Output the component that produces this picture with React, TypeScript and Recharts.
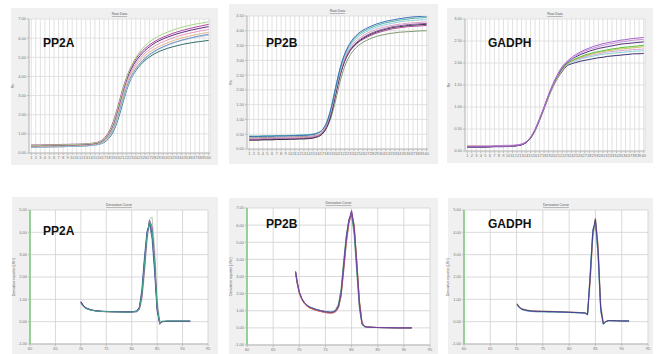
import { LineChart, Line, XAxis, YAxis, CartesianGrid } from 'recharts';

// ---- amplification (raw data) ----
const cycles = [1, 2, 3, 4, 5, 6, 7, 8, 9, 10, 11, 12, 13, 14, 15, 16, 17, 18, 19, 20, 21, 22, 23, 24, 25, 26, 27, 28, 29, 30, 31, 32, 33, 34, 35, 36, 37, 38, 39, 40];

const pp2aGreen = [0.40, 0.40, 0.40, 0.41, 0.41, 0.42, 0.42, 0.43, 0.43, 0.44, 0.45, 0.46, 0.47, 0.49, 0.52, 0.58, 0.73, 1.02, 1.55, 2.32, 3.18, 3.95, 4.55, 5.00, 5.33, 5.60, 5.80, 5.97, 6.10, 6.22, 6.32, 6.41, 6.49, 6.56, 6.62, 6.68, 6.73, 6.77, 6.81, 6.85];
const pp2aMagenta = [0.42, 0.42, 0.42, 0.43, 0.43, 0.44, 0.44, 0.45, 0.45, 0.46, 0.46, 0.47, 0.48, 0.50, 0.53, 0.60, 0.76, 1.08, 1.62, 2.40, 3.25, 3.98, 4.52, 4.92, 5.22, 5.46, 5.65, 5.81, 5.94, 6.05, 6.15, 6.24, 6.32, 6.39, 6.45, 6.51, 6.57, 6.62, 6.67, 6.72];
const pp2aPurple = [0.38, 0.38, 0.39, 0.39, 0.40, 0.40, 0.41, 0.41, 0.42, 0.42, 0.43, 0.44, 0.45, 0.47, 0.50, 0.56, 0.71, 1.00, 1.50, 2.25, 3.10, 3.85, 4.40, 4.80, 5.10, 5.35, 5.55, 5.72, 5.85, 5.96, 6.06, 6.14, 6.22, 6.29, 6.35, 6.41, 6.46, 6.51, 6.56, 6.60];
const pp2aPink = [0.36, 0.36, 0.37, 0.37, 0.38, 0.38, 0.39, 0.39, 0.40, 0.40, 0.41, 0.42, 0.43, 0.45, 0.48, 0.54, 0.68, 0.96, 1.44, 2.15, 2.98, 3.72, 4.27, 4.67, 4.97, 5.21, 5.41, 5.57, 5.70, 5.81, 5.91, 6.00, 6.08, 6.15, 6.21, 6.27, 6.32, 6.37, 6.41, 6.45];
const pp2aTan = [0.35, 0.35, 0.35, 0.36, 0.36, 0.37, 0.37, 0.38, 0.38, 0.39, 0.40, 0.41, 0.42, 0.44, 0.47, 0.52, 0.65, 0.92, 1.38, 2.08, 2.90, 3.63, 4.17, 4.56, 4.85, 5.08, 5.27, 5.42, 5.55, 5.66, 5.76, 5.85, 5.93, 6.00, 6.06, 6.12, 6.17, 6.22, 6.26, 6.30];
const pp2aBlue = [0.33, 0.33, 0.34, 0.34, 0.35, 0.35, 0.36, 0.36, 0.37, 0.37, 0.38, 0.39, 0.40, 0.42, 0.45, 0.50, 0.62, 0.86, 1.28, 1.94, 2.74, 3.48, 4.03, 4.43, 4.72, 4.96, 5.15, 5.31, 5.44, 5.55, 5.65, 5.74, 5.82, 5.89, 5.95, 6.01, 6.07, 6.12, 6.16, 6.20];
const pp2aCyan = [0.30, 0.30, 0.31, 0.31, 0.32, 0.32, 0.33, 0.33, 0.34, 0.34, 0.35, 0.36, 0.37, 0.39, 0.41, 0.46, 0.57, 0.79, 1.18, 1.80, 2.60, 3.36, 3.93, 4.35, 4.66, 4.91, 5.11, 5.27, 5.41, 5.53, 5.63, 5.72, 5.80, 5.87, 5.93, 5.99, 6.04, 6.08, 6.12, 6.15];
const pp2aTeal = [0.30, 0.30, 0.31, 0.31, 0.32, 0.32, 0.33, 0.33, 0.34, 0.35, 0.35, 0.36, 0.37, 0.39, 0.42, 0.46, 0.55, 0.75, 1.10, 1.70, 2.50, 3.30, 3.90, 4.30, 4.60, 4.84, 5.02, 5.17, 5.29, 5.39, 5.47, 5.54, 5.60, 5.66, 5.71, 5.75, 5.79, 5.82, 5.85, 5.88];

const pp2bBlue = [0.42, 0.42, 0.42, 0.43, 0.43, 0.43, 0.44, 0.44, 0.44, 0.45, 0.45, 0.46, 0.46, 0.47, 0.49, 0.53, 0.63, 0.88, 1.38, 2.08, 2.74, 3.22, 3.54, 3.76, 3.91, 4.02, 4.10, 4.17, 4.23, 4.28, 4.32, 4.35, 4.38, 4.41, 4.43, 4.45, 4.47, 4.48, 4.49, 4.50];
const pp2bTeal = [0.43, 0.43, 0.43, 0.44, 0.44, 0.44, 0.45, 0.45, 0.45, 0.46, 0.46, 0.47, 0.47, 0.48, 0.50, 0.54, 0.64, 0.90, 1.40, 2.10, 2.74, 3.20, 3.50, 3.71, 3.86, 3.97, 4.05, 4.12, 4.18, 4.23, 4.27, 4.30, 4.33, 4.36, 4.38, 4.40, 4.42, 4.43, 4.44, 4.45];
const pp2bCyan = [0.44, 0.44, 0.44, 0.44, 0.45, 0.45, 0.45, 0.46, 0.46, 0.46, 0.47, 0.47, 0.48, 0.49, 0.51, 0.55, 0.64, 0.88, 1.36, 2.04, 2.68, 3.14, 3.44, 3.65, 3.80, 3.91, 3.99, 4.06, 4.12, 4.17, 4.21, 4.24, 4.27, 4.30, 4.32, 4.34, 4.35, 4.36, 4.37, 4.38];
const pp2bPink = [0.36, 0.36, 0.36, 0.37, 0.37, 0.37, 0.38, 0.38, 0.38, 0.39, 0.39, 0.40, 0.40, 0.41, 0.43, 0.47, 0.57, 0.82, 1.30, 1.98, 2.62, 3.08, 3.38, 3.58, 3.72, 3.83, 3.92, 3.99, 4.05, 4.10, 4.14, 4.17, 4.20, 4.22, 4.24, 4.26, 4.27, 4.28, 4.29, 4.30];
const pp2bPurple = [0.34, 0.34, 0.34, 0.35, 0.35, 0.35, 0.36, 0.36, 0.36, 0.37, 0.37, 0.38, 0.38, 0.39, 0.41, 0.45, 0.55, 0.78, 1.24, 1.92, 2.56, 3.02, 3.32, 3.52, 3.66, 3.77, 3.86, 3.93, 3.99, 4.04, 4.08, 4.12, 4.15, 4.17, 4.19, 4.21, 4.22, 4.23, 4.24, 4.25];
const pp2bDark = [0.30, 0.30, 0.30, 0.31, 0.31, 0.31, 0.32, 0.32, 0.32, 0.33, 0.33, 0.34, 0.34, 0.35, 0.37, 0.41, 0.50, 0.72, 1.16, 1.84, 2.50, 2.98, 3.29, 3.49, 3.63, 3.74, 3.83, 3.90, 3.96, 4.01, 4.05, 4.09, 4.12, 4.14, 4.16, 4.18, 4.19, 4.20, 4.21, 4.22];
const pp2bMagenta = [0.31, 0.31, 0.31, 0.32, 0.32, 0.32, 0.33, 0.33, 0.33, 0.34, 0.34, 0.35, 0.35, 0.36, 0.38, 0.42, 0.51, 0.74, 1.20, 1.88, 2.52, 2.98, 3.28, 3.47, 3.61, 3.71, 3.79, 3.86, 3.92, 3.97, 4.01, 4.05, 4.08, 4.10, 4.12, 4.14, 4.15, 4.16, 4.17, 4.18];
const pp2bOlive = [0.38, 0.38, 0.38, 0.39, 0.39, 0.39, 0.40, 0.40, 0.40, 0.41, 0.41, 0.42, 0.42, 0.43, 0.44, 0.47, 0.54, 0.72, 1.08, 1.66, 2.30, 2.80, 3.13, 3.35, 3.50, 3.61, 3.69, 3.76, 3.81, 3.85, 3.88, 3.91, 3.93, 3.95, 3.96, 3.97, 3.98, 3.99, 4.00, 4.00];

const gadphPurple = [0.10, 0.10, 0.10, 0.10, 0.10, 0.10, 0.11, 0.11, 0.11, 0.11, 0.12, 0.13, 0.15, 0.20, 0.31, 0.49, 0.74, 1.01, 1.29, 1.54, 1.75, 1.92, 2.03, 2.12, 2.19, 2.25, 2.30, 2.34, 2.38, 2.41, 2.44, 2.46, 2.48, 2.50, 2.52, 2.53, 2.55, 2.56, 2.57, 2.58];
const gadphViolet = [0.11, 0.11, 0.11, 0.11, 0.11, 0.11, 0.12, 0.12, 0.12, 0.12, 0.13, 0.14, 0.16, 0.21, 0.32, 0.50, 0.74, 1.00, 1.28, 1.52, 1.73, 1.90, 2.01, 2.09, 2.16, 2.22, 2.27, 2.31, 2.34, 2.37, 2.40, 2.42, 2.44, 2.46, 2.48, 2.49, 2.51, 2.52, 2.53, 2.54];
const gadphDark = [0.09, 0.09, 0.09, 0.09, 0.09, 0.10, 0.10, 0.10, 0.10, 0.11, 0.11, 0.12, 0.14, 0.19, 0.30, 0.48, 0.72, 0.99, 1.27, 1.51, 1.72, 1.88, 2.00, 2.08, 2.14, 2.19, 2.23, 2.27, 2.30, 2.33, 2.35, 2.37, 2.39, 2.41, 2.43, 2.44, 2.45, 2.46, 2.47, 2.48];
const gadphGreen = [0.10, 0.10, 0.10, 0.10, 0.10, 0.10, 0.11, 0.11, 0.11, 0.11, 0.12, 0.13, 0.15, 0.20, 0.31, 0.49, 0.73, 0.99, 1.26, 1.50, 1.70, 1.86, 1.98, 2.05, 2.10, 2.14, 2.18, 2.21, 2.24, 2.26, 2.28, 2.30, 2.32, 2.33, 2.35, 2.36, 2.37, 2.38, 2.39, 2.40];
const gadphOlive = [0.11, 0.11, 0.11, 0.11, 0.11, 0.11, 0.11, 0.12, 0.12, 0.12, 0.12, 0.13, 0.15, 0.20, 0.30, 0.48, 0.72, 0.98, 1.25, 1.49, 1.69, 1.85, 1.97, 2.04, 2.09, 2.13, 2.16, 2.19, 2.22, 2.24, 2.26, 2.28, 2.29, 2.31, 2.32, 2.33, 2.34, 2.35, 2.36, 2.37];
const gadphPink = [0.12, 0.12, 0.12, 0.12, 0.12, 0.12, 0.12, 0.12, 0.13, 0.13, 0.13, 0.14, 0.16, 0.21, 0.31, 0.48, 0.71, 0.97, 1.24, 1.48, 1.68, 1.84, 1.96, 2.03, 2.07, 2.11, 2.14, 2.17, 2.19, 2.21, 2.23, 2.25, 2.26, 2.27, 2.28, 2.29, 2.30, 2.31, 2.31, 2.32];
const gadphCyan = [0.10, 0.10, 0.10, 0.10, 0.11, 0.11, 0.11, 0.11, 0.11, 0.12, 0.12, 0.13, 0.15, 0.20, 0.30, 0.47, 0.71, 0.97, 1.24, 1.48, 1.67, 1.83, 1.95, 2.01, 2.05, 2.09, 2.12, 2.14, 2.16, 2.18, 2.20, 2.21, 2.22, 2.23, 2.24, 2.25, 2.26, 2.27, 2.27, 2.28];
const gadphNavy = [0.09, 0.09, 0.09, 0.09, 0.09, 0.09, 0.10, 0.10, 0.10, 0.10, 0.11, 0.12, 0.14, 0.19, 0.29, 0.46, 0.70, 0.96, 1.23, 1.47, 1.66, 1.81, 1.93, 1.98, 2.01, 2.04, 2.06, 2.08, 2.10, 2.12, 2.13, 2.15, 2.16, 2.17, 2.18, 2.19, 2.20, 2.21, 2.21, 2.22];

// ---- melt (derivative) ----
const pp2aTemps = [70, 70.5, 71, 72, 73, 74, 75, 76, 77, 78, 79, 80, 81, 81.5, 82, 82.5, 83, 83.5, 84, 84.5, 85, 85.5, 86, 87, 88, 89, 90, 91.5];
const pp2aMelt1 = [0.90, 0.72, 0.62, 0.53, 0.49, 0.47, 0.46, 0.45, 0.45, 0.44, 0.44, 0.44, 0.47, 0.62, 1.30, 2.70, 3.95, 4.45, 3.95, 2.45, 0.55, -0.05, 0.00, 0.02, 0.02, 0.02, 0.02, 0.02];
const pp2aMelt2 = [0.85, 0.70, 0.60, 0.52, 0.48, 0.46, 0.45, 0.44, 0.44, 0.44, 0.43, 0.43, 0.45, 0.56, 1.10, 2.35, 3.75, 4.55, 4.25, 2.85, 0.75, -0.12, 0.00, 0.02, 0.02, 0.02, 0.02, 0.02];
const pp2aMelt3 = [0.88, 0.71, 0.61, 0.52, 0.48, 0.46, 0.45, 0.45, 0.44, 0.44, 0.44, 0.44, 0.48, 0.66, 1.45, 2.90, 4.05, 4.35, 3.70, 2.20, 0.45, -0.05, 0.00, 0.02, 0.02, 0.02, 0.02, 0.02];
const pp2aMelt4 = [0.80, 0.66, 0.58, 0.51, 0.47, 0.45, 0.44, 0.44, 0.43, 0.43, 0.43, 0.42, 0.44, 0.52, 0.95, 2.10, 3.55, 4.60, 4.68, 3.30, 1.00, 0.05, 0.00, 0.02, 0.02, 0.02, 0.02, 0.02];
const pp2aMelt5 = [0.82, 0.68, 0.59, 0.51, 0.48, 0.46, 0.45, 0.44, 0.44, 0.43, 0.43, 0.43, 0.46, 0.58, 1.20, 2.55, 3.85, 4.50, 4.10, 2.65, 0.65, -0.08, 0.02, 0.03, 0.03, 0.03, 0.03, 0.03];

const pp2bTemps = [69.3, 69.6, 70, 70.5, 71, 71.5, 72, 73, 74, 75, 76, 76.5, 77, 77.5, 78, 78.5, 79, 79.5, 80, 80.5, 81, 81.5, 82, 82.5, 83, 85, 87, 89, 91.5];
const pp2bMelt1 = [3.30, 2.70, 2.10, 1.70, 1.45, 1.30, 1.20, 1.08, 1.00, 0.93, 0.90, 0.92, 1.00, 1.25, 2.00, 3.60, 5.20, 6.30, 6.85, 5.90, 3.70, 1.45, 0.25, 0.08, 0.05, 0.02, 0.01, 0.00, 0.00];
const pp2bMelt2 = [3.20, 2.60, 2.05, 1.68, 1.44, 1.30, 1.22, 1.10, 1.02, 0.95, 0.92, 0.95, 1.08, 1.40, 2.30, 3.95, 5.45, 6.35, 6.60, 5.40, 3.20, 1.10, 0.18, 0.06, 0.04, 0.02, 0.01, 0.00, 0.00];
const pp2bMelt3 = [3.25, 2.65, 2.08, 1.66, 1.42, 1.27, 1.17, 1.05, 0.97, 0.90, 0.87, 0.89, 0.97, 1.20, 1.90, 3.45, 5.05, 6.20, 6.80, 6.00, 3.85, 1.55, 0.30, 0.09, 0.05, 0.02, 0.01, 0.00, 0.00];
const pp2bMelt4 = [3.28, 2.68, 2.10, 1.72, 1.48, 1.33, 1.23, 1.10, 1.02, 0.95, 0.92, 0.94, 1.03, 1.30, 2.10, 3.75, 5.30, 6.30, 6.70, 5.70, 3.50, 1.30, 0.22, 0.07, 0.04, 0.02, 0.01, 0.00, 0.00];
const pp2bMelt5 = [3.15, 2.58, 2.02, 1.64, 1.40, 1.26, 1.16, 1.04, 0.96, 0.89, 0.86, 0.88, 0.95, 1.18, 1.85, 3.35, 4.95, 6.10, 6.65, 5.95, 3.90, 1.60, 0.32, 0.10, 0.05, 0.02, 0.01, 0.00, 0.00];

const gadphTemps = [70.1, 70.5, 71, 72, 73, 74, 75, 76, 77, 78, 79, 80, 81, 82, 83, 83.5, 84, 84.5, 85, 85.5, 86, 86.5, 87, 87.5, 88, 89, 90, 91.4];
const gadphMelt1 = [0.78, 0.65, 0.56, 0.50, 0.47, 0.46, 0.46, 0.45, 0.45, 0.44, 0.43, 0.42, 0.41, 0.40, 0.39, 0.32, 2.00, 4.00, 4.60, 3.20, 0.60, -0.10, 0.00, 0.05, 0.05, 0.04, 0.03, 0.03];
const gadphMelt2 = [0.82, 0.68, 0.58, 0.52, 0.49, 0.48, 0.47, 0.47, 0.46, 0.45, 0.44, 0.43, 0.42, 0.41, 0.40, 0.36, 1.70, 3.70, 4.65, 3.50, 0.80, -0.05, 0.02, 0.05, 0.05, 0.04, 0.03, 0.03];
const gadphMelt3 = [0.74, 0.62, 0.54, 0.48, 0.45, 0.44, 0.44, 0.43, 0.43, 0.42, 0.42, 0.41, 0.40, 0.39, 0.38, 0.30, 2.20, 4.15, 4.40, 2.90, 0.45, -0.12, 0.00, 0.04, 0.04, 0.04, 0.03, 0.03];
const gadphMelt4 = [0.80, 0.66, 0.57, 0.51, 0.48, 0.47, 0.46, 0.46, 0.45, 0.44, 0.44, 0.43, 0.42, 0.41, 0.40, 0.34, 1.85, 3.85, 4.55, 3.35, 0.70, -0.08, 0.01, 0.05, 0.05, 0.04, 0.03, 0.03];
const gadphMelt5 = [0.76, 0.64, 0.55, 0.49, 0.46, 0.45, 0.45, 0.44, 0.44, 0.43, 0.43, 0.42, 0.41, 0.40, 0.39, 0.33, 2.10, 4.05, 4.50, 3.05, 0.55, -0.10, 0.00, 0.04, 0.04, 0.04, 0.03, 0.03];

const ampTicksX = cycles;
const pp2aTicksY = [0, 1, 2, 3, 4, 5, 6, 7];
const pp2bTicksY = [0, 0.5, 1, 1.5, 2, 2.5, 3, 3.5, 4, 4.5];
const gadphTicksY = [0, 0.5, 1, 1.5, 2, 2.5, 3];
const meltTicksX = [60, 65, 70, 75, 80, 85, 90, 95];
const meltTicksY6 = [-1, 0, 1, 2, 3, 4, 5];
const meltTicksY8 = [-1, 0, 1, 2, 3, 4, 5, 6, 7];

type Series = { values: number[]; color: string };
type Box = { x: number; y: number; w: number; h: number };

function rows(xs: number[], series: Series[]) {
  return xs.map((x, i) => {
    const r: Record<string, number> = { x };
    series.forEach((s, j) => (r['s' + j] = s.values[i]));
    return r;
  });
}

interface PanelProps {
  frame: Box;
  plot: Box;
  xs: number[];
  series: Series[];
  xDomain: [number, number];
  xTicks: number[];
  yTicks: number[];
  melt?: boolean;
}

function Panel({ frame, plot, xs, series, xDomain, xTicks, yTicks, melt }: PanelProps) {
  const data = rows(xs, series);
  const xAxisH = 10;
  const margin = {
    top: plot.y - frame.y,
    left: 0,
    right: frame.x + frame.w - (plot.x + plot.w),
    bottom: frame.y + frame.h - (plot.y + plot.h) - xAxisH,
  };
  const tick = { fontSize: 4, fill: '#777', fontFamily: 'Liberation Sans' };
  return (
    <div style={{ position: 'absolute', left: frame.x, top: frame.y, width: frame.w, height: frame.h, background: '#f0f0f0' }}>
      <LineChart width={frame.w} height={frame.h} data={data} margin={margin}>
        <CartesianGrid fill="#ffffff" stroke={melt ? '#cfcfcf' : '#dadada'} strokeWidth={0.8} />
        <XAxis
          dataKey="x"
          type="number"
          domain={xDomain}
          ticks={xTicks}
          height={xAxisH}
          tick={tick}
          tickSize={2}
          tickMargin={1}
          interval={0}
          axisLine={{ stroke: '#bbb' }}
          tickLine={{ stroke: '#bbb' }}
          allowDataOverflow
        />
        <YAxis
          type="number"
          domain={[yTicks[0], yTicks[yTicks.length - 1]]}
          ticks={yTicks}
          width={plot.x - frame.x}
          tick={tick}
          tickSize={2}
          tickMargin={1}
          interval={0}
          tickFormatter={(v: number) => v.toFixed(2)}
          axisLine={{ stroke: melt ? '#7cc87c' : '#bbb', strokeWidth: melt ? 1.5 : 1 }}
          tickLine={{ stroke: '#bbb' }}
          allowDataOverflow
        />
        {series.map((s, j) => (
          <Line
            key={j}
            dataKey={'s' + j}
            type={melt ? 'linear' : 'monotone'}
            stroke={s.color}
            strokeWidth={1}
            dot={false}
            isAnimationActive={false}
          />
        ))}
      </LineChart>
    </div>
  );
}

const frames = {
  p1: { x: 11, y: 8, w: 207, h: 157 },
  p2: { x: 229, y: 4, w: 209, h: 160 },
  p3: { x: 447, y: 8, w: 206, h: 155 },
  p4: { x: 12, y: 197, w: 206, h: 157 },
  p5: { x: 229, y: 198, w: 209, h: 156 },
  p6: { x: 448, y: 198, w: 205, h: 156 },
};
const plots = {
  p1: { x: 29, y: 19, w: 181, h: 134 },
  p2: { x: 247, y: 16, w: 181, h: 133 },
  p3: { x: 465, y: 19, w: 180, h: 132 },
  p4: { x: 30, y: 210, w: 178, h: 134 },
  p5: { x: 247, y: 208, w: 183, h: 137 },
  p6: { x: 464, y: 210, w: 184, h: 134 },
};

export default function App() {
  const big = { fontFamily: 'Liberation Sans, Arial, sans-serif', fontSize: 12, fontWeight: 700, fill: '#111' };
  const small = { fontFamily: 'Liberation Sans, Arial, sans-serif', fontSize: 3.5, fill: '#555' };
  const titles: [Box, string][] = [
    [plots.p1, 'Raw Data'],
    [plots.p2, 'Raw Data'],
    [plots.p3, 'Raw Data'],
    [plots.p4, 'Derivative Curve'],
    [plots.p5, 'Derivative Curve'],
    [plots.p6, 'Derivative Curve'],
  ];
  return (
    <div style={{ position: 'absolute', left: 0, top: 0, width: 657, height: 354, background: '#fff', overflow: 'hidden' }}>
      <Panel
        frame={frames.p1}
        plot={plots.p1}
        xs={cycles}
        xDomain={[0.5, 40.3]}
        xTicks={ampTicksX}
        yTicks={pp2aTicksY}
        series={[
          { values: pp2aTeal, color: '#2f6e6c' },
          { values: pp2aCyan, color: '#9fd0e6' },
          { values: pp2aBlue, color: '#7f95c9' },
          { values: pp2aTan, color: '#e3b88a' },
          { values: pp2aPink, color: '#e99ac0' },
          { values: pp2aPurple, color: '#5b2a86' },
          { values: pp2aMagenta, color: '#b0489f' },
          { values: pp2aGreen, color: '#a6d784' },
        ]}
      />
      <Panel
        frame={frames.p2}
        plot={plots.p2}
        xs={cycles}
        xDomain={[0.5, 40.3]}
        xTicks={ampTicksX}
        yTicks={pp2bTicksY}
        series={[
          { values: pp2bOlive, color: '#7f9a72' },
          { values: pp2bMagenta, color: '#b04a9a' },
          { values: pp2bDark, color: '#333340' },
          { values: pp2bPurple, color: '#8e5aa8' },
          { values: pp2bPink, color: '#e6a0c4' },
          { values: pp2bCyan, color: '#8fd0dc' },
          { values: pp2bTeal, color: '#4fb3a8' },
          { values: pp2bBlue, color: '#3d6fb6' },
        ]}
      />
      <Panel
        frame={frames.p3}
        plot={plots.p3}
        xs={cycles}
        xDomain={[0.5, 40.3]}
        xTicks={ampTicksX}
        yTicks={gadphTicksY}
        series={[
          { values: gadphNavy, color: '#3b2c6e' },
          { values: gadphCyan, color: '#86d4d4' },
          { values: gadphPink, color: '#dba6d6' },
          { values: gadphOlive, color: '#c9c35a' },
          { values: gadphGreen, color: '#58c23a' },
          { values: gadphDark, color: '#55307f' },
          { values: gadphViolet, color: '#c792dc' },
          { values: gadphPurple, color: '#a763c9' },
        ]}
      />
      <Panel
        frame={frames.p4}
        plot={plots.p4}
        xs={pp2aTemps}
        xDomain={[60, 95]}
        xTicks={meltTicksX}
        yTicks={meltTicksY6}
        melt
        series={[
          { values: pp2aMelt4, color: '#b9c8b2' },
          { values: pp2aMelt3, color: '#5f86c0' },
          { values: pp2aMelt2, color: '#b0489f' },
          { values: pp2aMelt1, color: '#4b2d83' },
          { values: pp2aMelt5, color: '#3fae8c' },
        ]}
      />
      <Panel
        frame={frames.p5}
        plot={plots.p5}
        xs={pp2bTemps}
        xDomain={[60, 95]}
        xTicks={meltTicksX}
        yTicks={meltTicksY8}
        melt
        series={[
          { values: pp2bMelt2, color: '#4fa86a' },
          { values: pp2bMelt5, color: '#c04a5a' },
          { values: pp2bMelt3, color: '#d98a4a' },
          { values: pp2bMelt4, color: '#4a7cc0' },
          { values: pp2bMelt1, color: '#7a3c9a' },
        ]}
      />
      <Panel
        frame={frames.p6}
        plot={plots.p6}
        xs={gadphTemps}
        xDomain={[60, 95]}
        xTicks={meltTicksX}
        yTicks={meltTicksY6}
        melt
        series={[
          { values: gadphMelt2, color: '#c8b850' },
          { values: gadphMelt4, color: '#c070b0' },
          { values: gadphMelt5, color: '#70b070' },
          { values: gadphMelt3, color: '#5fa0d0' },
          { values: gadphMelt1, color: '#4a3a8a' },
        ]}
      />
      <svg width={657} height={354} style={{ position: 'absolute', left: 0, top: 0, pointerEvents: 'none' }}>
        {titles.map(([p, t], i) => (
          <text key={i} x={p.x + p.w / 2} y={p.y - 4} textAnchor="middle" {...small} textDecoration="underline">
            {t}
          </text>
        ))}
        {[plots.p1, plots.p2, plots.p3].map((p, i) => (
          <text key={'r' + i} transform={`translate(${p.x - 15},${p.y + p.h / 2}) rotate(-90)`} textAnchor="middle" {...small}>
            Rn
          </text>
        ))}
        {[plots.p4, plots.p5, plots.p6].map((p, i) => (
          <text key={'d' + i} transform={`translate(${p.x - 15},${p.y + p.h / 2}) rotate(-90)`} textAnchor="middle" {...small}>
            Derivative reporter (-Rn')
          </text>
        ))}
        <text x={43} y={47} {...big}>PP2A</text>
        <text x={266} y={47} {...big}>PP2B</text>
        <text x={488} y={47} {...big}>GADPH</text>
        <text x={43} y={235} {...big}>PP2A</text>
        <text x={266} y={228} {...big}>PP2B</text>
        <text x={488} y={228} {...big}>GADPH</text>
      </svg>
    </div>
  );
}
